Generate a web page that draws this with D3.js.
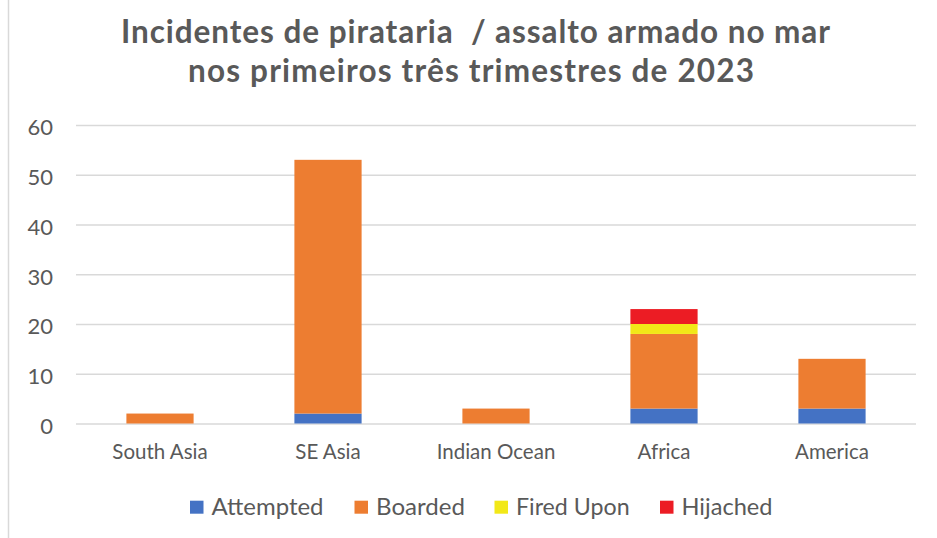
<!DOCTYPE html>
<html><head><meta charset="utf-8">
<script src="https://cdn.jsdelivr.net/npm/d3@7"></script>
<style>
html,body{margin:0;padding:0;background:#fff;}
svg{display:block;}
text{font-family:Lato,"Open Sans",sans-serif;fill:#595959;}
</style></head>
<body>
<script>
const categories = ["South Asia","SE Asia","Indian Ocean","Africa","America"];
const seriesNames = ["Attempted","Boarded","Fired Upon","Hijached"];
const attempted = [0,2,0,3,3];
const boarded   = [2,51,3,15,10];
const firedUpon = [0,0,0,2,0];
const hijacked  = [0,0,0,3,0];
const yTicks = [0,10,20,30,40,50,60];
const titleLines = ["Incidentes de pirataria  / assalto armado no mar","nos primeiros três trimestres de 2023"];
const colors = ["#4472C4","#ED7D31","#F2E818","#EC1C24"];

const W=937,H=538;
const svg=d3.select("body").append("svg").attr("width",W).attr("height",H);
svg.append("rect").attr("width",W).attr("height",H).attr("fill","#fff");
svg.append("line").attr("x1",8.5).attr("x2",8.5).attr("y1",0).attr("y2",H).attr("stroke","#d9d9d9").attr("stroke-width",1.5);

const plot={l:76,r:916,t:125,b:423.5};
const x=d3.scaleBand().domain(categories).range([plot.l,plot.r]).paddingInner(0.6).paddingOuter(0.3);
const y=d3.scaleLinear().domain([0,60]).range([plot.b,plot.t]);

// gridlines + y labels
const yAxis=d3.axisLeft(y).tickValues(yTicks).tickSize(-(plot.r-plot.l)).tickPadding(23);
const ga=svg.append("g").attr("transform",`translate(${plot.l},0)`).call(yAxis);
ga.select(".domain").remove();
ga.selectAll(".tick line").attr("stroke","#d9d9d9").attr("stroke-width",1.3);
ga.selectAll(".tick text").attr("font-size",22).attr("dy","0.45em").attr("fill","#595959").attr("font-family","Lato");

// stacked bars
const rows=categories.map((c,i)=>({cat:c,Attempted:attempted[i],Boarded:boarded[i],"Fired Upon":firedUpon[i],Hijached:hijacked[i]}));
const stack=d3.stack().keys(seriesNames)(rows);
stack.forEach((s,si)=>{
  svg.append("g").selectAll("rect").data(s).join("rect")
    .attr("x",d=>x(d.data.cat))
    .attr("width",x.bandwidth())
    .attr("y",d=>y(d[1]))
    .attr("height",d=>Math.max(0,y(d[0])-y(d[1])))
    .attr("fill",colors[si]);
});

// x axis labels
const xa=d3.axisBottom(x).tickSize(0).tickPadding(21);
const gx=svg.append("g").attr("transform",`translate(0,${plot.b})`).call(xa);
gx.select(".domain").remove();
gx.selectAll(".tick text").attr("font-size",20.5).attr("fill","#595959").attr("font-family","Lato");

// title
const titleX=[475.5,471];
const titleW=[709,566];
titleLines.forEach((t,i)=>{
  svg.append("text").attr("text-anchor","middle").attr("font-weight","bold").attr("font-size",31.5)
    .style("white-space","pre")
    .attr("x",titleX[i]).attr("y",42.7+i*39)
    .attr("textLength",titleW[i]).attr("lengthAdjust","spacing")
    .text(t);
});

// legend
const legX=[190,354.5,494.5,660];
const legW=[112,89,113.6,91];
const lg=svg.append("g");
seriesNames.forEach((n,i)=>{
  lg.append("rect").attr("x",legX[i]).attr("y",500.7).attr("width",13.5).attr("height",13).attr("fill",colors[i]);
  lg.append("text").attr("x",legX[i]+21.5).attr("y",515).attr("font-size",23.5)
    .attr("textLength",legW[i]).attr("lengthAdjust","spacingAndGlyphs").text(n);
});
</script>
</body></html>
